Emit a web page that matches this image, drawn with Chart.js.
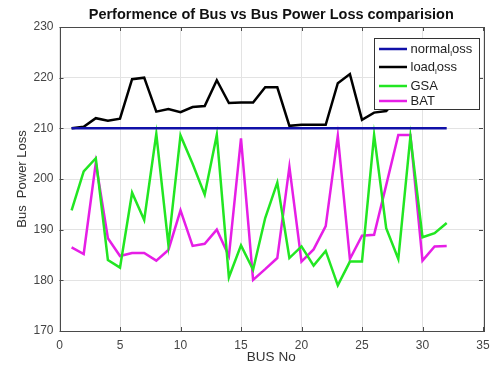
<!DOCTYPE html>
<html><head><meta charset="utf-8">
<script src="https://cdn.jsdelivr.net/npm/chart.js@4"></script>
<style>html,body{margin:0;padding:0;background:#fff;}#wrap{width:493px;height:368px;}</style>
</head><body><div id="wrap"><canvas id="c" width="493" height="368"></canvas></div>
<script>
const buses = [1,2,3,4,5,6,7,8,9,10,11,12,13,14,15,16,17,18,19,20,21,22,23,24,25,26,27,28,29,30,31,32];
const normalLoss = [210,210,210,210,210,210,210,210,210,210,210,210,210,210,210,210,210,210,210,210,210,210,210,210,210,210,210,210,210,210,210,210];
const loadLoss = [210,210.3,212,211.5,211.9,219.7,220,213.3,213.8,213.2,214.2,214.4,219.5,215,215.1,215.1,218.1,218.1,210.5,210.7,210.7,210.7,218.9,220.7,211.7,213.1,213.4,216,218,215,217,216];
const gsa = [193.8,201.5,204.1,184,182.5,197.3,191.9,208.9,187,208.6,203,196.9,208.7,180.6,186.9,182.1,192.3,199.3,184.4,186.7,182.9,185.8,179,183.7,183.7,208.7,190.3,184.2,208.4,188.5,189.3,191.3];
const bat = [186.5,185.2,203.2,188.3,184.8,185.4,185.4,183.9,186,193.8,186.8,187.2,190,184.8,208,180.1,182.2,184.4,202.4,183.7,186.1,190.7,208.5,184.2,188.8,189,198.8,208.7,208.7,183.9,186.7,186.8];
const xTicks = [0,5,10,15,20,25,30,35];
const yTicks = [170,180,190,200,210,220,230];
const seriesNames = ['normal_loss','load_loss','GSA','BAT'];
const seriesColors = ['#1010a8','#000000','#22e622','#e61ee6'];
const chartTitle = 'Performence of Bus vs Bus Power Loss comparision';

const pts = arr => arr.map((v,i)=>({x:buses[i], y:v}));
const FONT = "'Liberation Sans', Arial, sans-serif";

const boxPlugin = {
  id:'box',
  afterDatasetsDraw(chart){
    const {ctx, chartArea:a, scales:{x,y}} = chart;
    ctx.save();
    ctx.strokeStyle = '#4a4a4a'; ctx.lineWidth = 1;
    ctx.strokeRect(Math.round(a.left)+0.5, Math.round(a.top)+0.5, Math.round(a.right-a.left), Math.round(a.bottom-a.top));
    ctx.beginPath();
    xTicks.forEach(t=>{const px=Math.round(x.getPixelForValue(t))+0.5;
      ctx.moveTo(px,a.bottom); ctx.lineTo(px,a.bottom-4);
      ctx.moveTo(px,a.top); ctx.lineTo(px,a.top+4);});
    yTicks.forEach(t=>{const py=Math.round(y.getPixelForValue(t))+0.5;
      ctx.moveTo(a.left,py); ctx.lineTo(a.left+4,py);
      ctx.moveTo(a.right,py); ctx.lineTo(a.right-4,py);});
    ctx.stroke();
    // title
    ctx.fillStyle='#111'; ctx.font="bold 14.5px "+FONT; ctx.textAlign='center'; ctx.textBaseline='middle';
    ctx.fillText(chartTitle,(a.left+a.right)/2,15);
    ctx.textAlign='left';
    // legend
    const lx=374.5, ly=38.5, lw=105, lh=71;
    ctx.fillStyle='#fff'; ctx.fillRect(lx,ly,lw,lh);
    ctx.strokeStyle='#333'; ctx.strokeRect(lx,ly,lw,lh);
    const rows=[49,67,86,101];
    seriesNames.forEach((n,i)=>{
      ctx.strokeStyle=seriesColors[i]; ctx.lineWidth=2.5;
      ctx.beginPath(); ctx.moveTo(379,rows[i]); ctx.lineTo(407,rows[i]); ctx.stroke();
      ctx.fillStyle='#222';
      const parts=n.split('_');
      let tx=410.5;
      ctx.font="13px "+FONT;
      ctx.fillText(parts[0],tx,rows[i]);
      if(parts.length>1){
        tx+=ctx.measureText(parts[0]).width;
        ctx.font="8px "+FONT;
        ctx.fillText(parts[1][0],tx,rows[i]+5);
        tx+=ctx.measureText(parts[1][0]).width;
        ctx.font="13px "+FONT;
        ctx.fillText(parts[1].slice(1),tx,rows[i]);
      }
    });
    ctx.restore();
  }
};

new Chart(document.getElementById('c'), {
  type:'line',
  data:{datasets:[
    {label:seriesNames[0], data:pts(normalLoss), borderColor:seriesColors[0]},
    {label:seriesNames[1], data:pts(loadLoss), borderColor:seriesColors[1]},
    {label:seriesNames[2], data:pts(gsa), borderColor:seriesColors[2]},
    {label:seriesNames[3], data:pts(bat), borderColor:seriesColors[3]}
  ]},
  options:{
    responsive:false, animation:false,
    layout:{padding:{left:15,right:10,top:27,bottom:3}},
    elements:{line:{borderWidth:2.5,tension:0,fill:false}, point:{radius:0}},
    plugins:{ legend:{display:false}, tooltip:{enabled:false}, title:{display:false} },
    scales:{
      x:{type:'linear', min:0, max:35,
        afterBuildTicks(s){s.ticks=xTicks.map(v=>({value:v}));},
        afterFit(s){s.height=34; s.paddingRight=0; s.paddingLeft=0;},
        grid:{color:'#e3e3e3', drawTicks:false},
        border:{display:false},
        ticks:{padding:7, color:'#444', font:{family:FONT,size:12}},
        title:{display:true, text:'BUS No', color:'#333', font:{family:FONT,size:13.5}, padding:{top:1,bottom:0}}
      },
      y:{type:'linear', min:170, max:230,
        afterBuildTicks(s){s.ticks=yTicks.map(v=>({value:v}));},
        afterFit(s){s.width=44.5; s.paddingTop=0; s.paddingBottom=0;},
        grid:{color:'#e3e3e3', drawTicks:false},
        border:{display:false},
        ticks:{padding:6, color:'#444', font:{family:FONT,size:12}},
        title:{display:true, text:'Bus  Power Loss', color:'#333', font:{family:FONT,size:13}, padding:{top:0,bottom:4}}
      }
    }
  },
  plugins:[boxPlugin]
});
</script></body></html>
